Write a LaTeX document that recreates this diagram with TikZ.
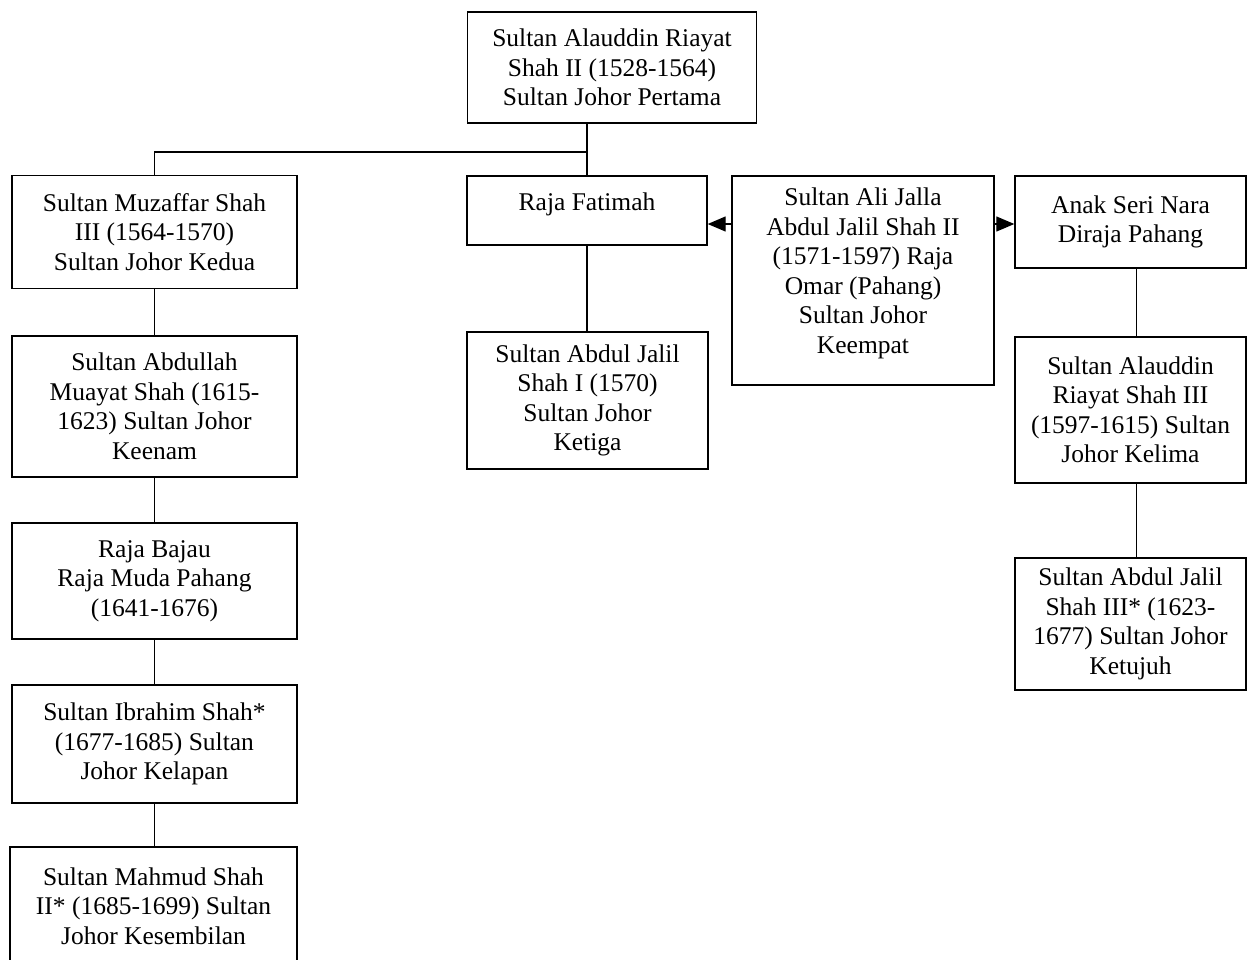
\documentclass[tikz,border=0pt]{standalone}
\usepackage{fontspec}
\setmainfont{Liberation Serif}
\usetikzlibrary{arrows.meta}
\begin{document}
\begin{tikzpicture}[x=1pt,y=-1pt,
  box/.style={draw, line width=1.4pt, inner sep=0pt, align=center,
    font=\fontsize{25.5}{29.5}\selectfont},
  link/.style={line width=1.3pt},
  tip/.style={-{Triangle[length=18pt,width=15pt]}}
]
\useasboundingbox (0,0) rectangle (1249,959);
% top
\node[box, minimum width=289pt, minimum height=111pt] (top) at (612,67.5)
  {Sultan Alauddin Riayat\\Shah II (1528-1564)\\Sultan Johor Pertama};
% left column
\node[box, minimum width=285pt, minimum height=113pt] (muz) at (154.5,232)
  {Sultan Muzaffar Shah\\III (1564-1570)\\Sultan Johor Kedua};
\node[box, minimum width=285pt, minimum height=141pt] (abd) at (154.5,406.5)
  {Sultan Abdullah\\Muayat Shah (1615-\\1623) Sultan Johor\\Keenam};
\node[box, minimum width=285pt, minimum height=116pt] (baj) at (154.5,581)
  {Raja Bajau\\Raja Muda Pahang\\(1641-1676)};
\node[box, minimum width=285pt, minimum height=118pt] (ibr) at (154.5,744)
  {Sultan Ibrahim Shah*\\(1677-1685) Sultan\\Johor Kelapan};
\node[box, minimum width=287pt, minimum height=118pt] (mah) at (153.5,906)
  {Sultan Mahmud Shah\\II* (1685-1699) Sultan\\Johor Kesembilan};
% middle
\node[box, minimum width=240pt, minimum height=69pt, text depth=17pt] (fat) at (587,210.5)
  {Raja Fatimah};
\node[box, minimum width=241pt, minimum height=137pt] (jal1) at (587.5,400.5)
  {Sultan Abdul Jalil\\Shah I (1570)\\Sultan Johor\\Ketiga};
\node[box, minimum width=262pt, minimum height=209pt, text depth=20pt] (ali) at (863,280.5)
  {Sultan Ali Jalla\\Abdul Jalil Shah II\\(1571-1597) Raja\\Omar (Pahang)\\Sultan Johor\\Keempat};
% right column
\node[box, minimum width=231pt, minimum height=92pt] (anak) at (1130.5,222)
  {Anak Seri Nara\\Diraja Pahang};
\node[box, minimum width=231pt, minimum height=146pt] (ala3) at (1130.5,410)
  {Sultan Alauddin\\Riayat Shah III\\(1597-1615) Sultan\\Johor Kelima};
\node[box, minimum width=231pt, minimum height=132pt] (jal3) at (1130.5,624)
  {Sultan Abdul Jalil\\Shah III* (1623-\\1677) Sultan Johor\\Ketujuh};
% helper coordinates
\coordinate (bar) at (0,152);
\coordinate (ay) at (0,224);
% connectors
\draw[link] (fat.north |- top.south) -- (fat.north);
\draw[link] (muz.north) |- (fat.north |- bar);
\draw[link] (muz.south) -- (abd.north);
\draw[link] (abd.south) -- (baj.north);
\draw[link] (baj.south) -- (ibr.north);
\draw[link] (ibr.south) -- (ibr.south |- mah.north);
\draw[link] (fat.south) -- (fat.south |- jal1.north);
\draw[link] ([xshift=6pt]anak.south) -- ([xshift=6pt]ala3.north);
\draw[link] ([xshift=6pt]ala3.south) -- ([xshift=6pt]jal3.north);
\draw[link, tip] (ali.west |- ay) -- (fat.east |- ay);
\draw[link, tip] (ali.east |- ay) -- (anak.west |- ay);
\end{tikzpicture}
\end{document}
